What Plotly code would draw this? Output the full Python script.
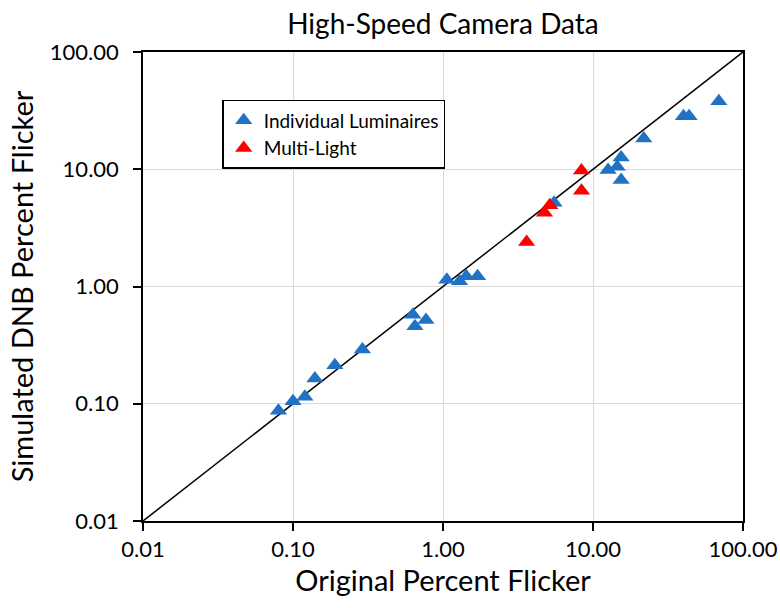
import plotly.graph_objects as go

# Data
ind_x = [0.08, 0.10, 0.12, 0.14, 0.19, 0.29, 0.63, 0.65, 0.77, 1.06, 1.29, 1.43, 1.70,
         5.5, 12.6, 14.5, 15.4, 15.4, 21.8, 40.1, 43.7, 69.0]
ind_y = [0.087, 0.105, 0.115, 0.164, 0.213, 0.29, 0.575, 0.457, 0.518, 1.14, 1.11, 1.22, 1.22,
         5.18, 9.86, 10.5, 12.6, 8.1, 18.3, 28.3, 28.3, 38.0]
multi_x = [3.61, 4.75, 5.15, 8.38, 8.38]
multi_y = [2.4, 4.25, 4.94, 6.56, 9.74]
line_x = [0.01, 100]
line_y = [0.01, 100]
tick_vals = [0.01, 0.1, 1, 10, 100]
tick_text = ["0.01", "0.10", "1.00", "10.00", "100.00"]

FONT = "Lato, 'Open Sans', sans-serif"

fig = go.Figure()
fig.add_trace(go.Scatter(x=line_x, y=line_y, mode="lines",
                         line=dict(color="black", width=1.5), showlegend=False,
                         hoverinfo="skip"))
fig.add_trace(go.Scatter(x=ind_x, y=ind_y, mode="markers", name="Individual Luminaires",
                         marker=dict(symbol="triangle-up", size=15, color="#1F72C4")))
fig.add_trace(go.Scatter(x=multi_x, y=multi_y, mode="markers", name="Multi-Light",
                         marker=dict(symbol="triangle-up", size=15, color="#FF0000")))

axis_common = dict(type="log", range=[-2, 2], tickvals=tick_vals, ticktext=tick_text,
                   showgrid=True, gridcolor="#D9D9D9", gridwidth=1,
                   showline=True, linecolor="black", linewidth=1.5, mirror=True,
                   ticks="outside", ticklen=8, tickcolor="black", tickwidth=1.5,
                   zeroline=False, automargin=False,
                   tickfont=dict(size=22, color="black", family=FONT))

fig.update_layout(
    width=780, height=608,
    margin=dict(l=143, r=37, t=52, b=87),
    paper_bgcolor="white", plot_bgcolor="white",
    title=dict(text="High-Speed Camera Data", x=(143 + 300) / 780, xanchor="center",
               y=1 - 24 / 608, yanchor="middle",
               font=dict(size=28, color="black", family=FONT)),
    xaxis=dict(axis_common, title=dict(text="Original Percent Flicker",
                                        font=dict(size=29, color="black", family=FONT),
                                        standoff=8)),
    yaxis=dict(axis_common, ticklabelstandoff=10,
               title=dict(text="Simulated DNB Percent Flicker",
                          font=dict(size=29, color="black", family=FONT),
                          standoff=8)),
    legend=dict(x=0.132, y=0.898, xanchor="left", yanchor="top",
                bgcolor="white", bordercolor="black", borderwidth=1.5,
                font=dict(size=19, color="black", family=FONT)),
    showlegend=True,
)

fig.write_html("out.html")
